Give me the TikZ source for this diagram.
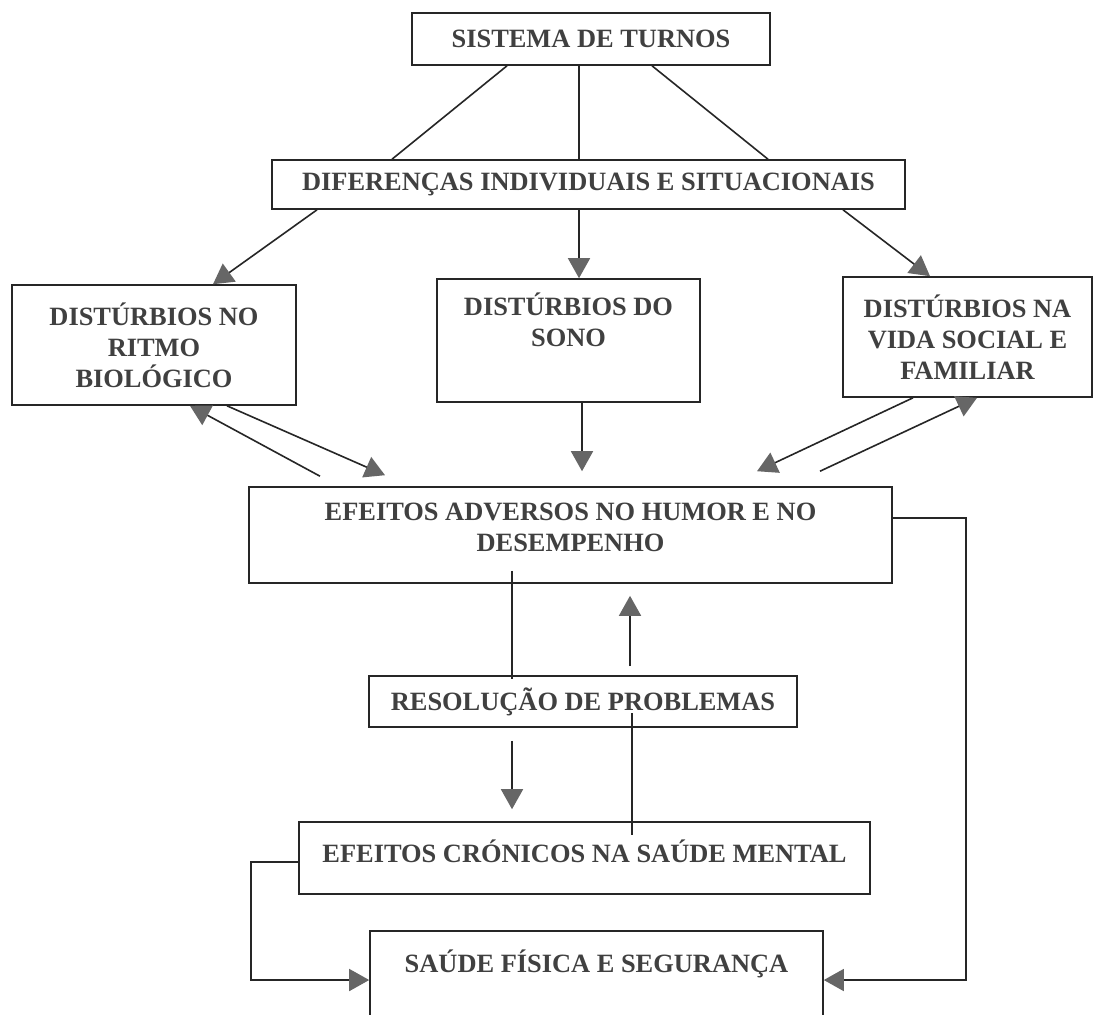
\documentclass[tikz,border=0pt]{standalone}
\usepackage{fontspec}
\setmainfont{Liberation Serif}
\usetikzlibrary{arrows.meta}

\newcommand{\boxfont}{\fontsize{13.2}{15.5}\selectfont\bfseries}
\newcommand{\padbelow}[1]{\rule[-#1]{0pt}{0pt}}

\begin{document}
\begin{tikzpicture}[
    x=0.5pt, y=-0.5pt,
    box/.style={rectangle, draw=black!85, line width=0.8pt, inner sep=0pt, align=center, text=black!75, font=\boxfont},
    link/.style={draw=black!85, line width=0.8pt},
    arrow/.style={link, -{Triangle[length=10pt, width=11pt, color=black!60]}}
]
\path[use as bounding box, fill=white] (0,0) rectangle (1096,1014);

% Top of the chain
\node[box, minimum width=179pt, minimum height=26pt] (turnos) at (591,39) {SISTEMA DE TURNOS};
\node[box, minimum width=316.5pt, minimum height=24.5pt] (difer) at (588.5,184.5) {DIFERENÇAS INDIVIDUAIS E SITUACIONAIS};

% Disturbances
\node[box, minimum width=142pt, minimum height=60pt] (ritmo) at (154,345) {DISTÚRBIOS NO\\RITMO\\BIOLÓGICO};
\node[box, minimum width=131.5pt, minimum height=61.5pt] (sono) at (568.5,340.5) {DISTÚRBIOS DO\\SONO\padbelow{20.5pt}};
\node[box, minimum width=124.5pt, minimum height=60pt] (social) at (967.5,337) {DISTÚRBIOS NA\\VIDA SOCIAL E\\FAMILIAR};

% Effects
\node[box, minimum width=321.5pt, minimum height=48pt] (efeitos) at (570.5,535) {EFEITOS ADVERSOS NO HUMOR E NO\\DESEMPENHO\padbelow{8pt}};
\node[box, minimum width=214pt, minimum height=25.5pt] (resol) at (583,701.5) {RESOLUÇÃO DE PROBLEMAS};
\node[box, minimum width=285.5pt, minimum height=36pt] (cronic) at (584.5,858) {EFEITOS CRÓNICOS NA SAÚDE MENTAL\padbelow{7pt}};
\node[box, minimum width=226.5pt, minimum height=43.5pt] (saude) at (596.5,974.5) {SAÚDE FÍSICA E SEGURANÇA\padbelow{13.5pt}};

% Shift system to differences
\draw[link] ([xshift=-42pt]turnos.south) -- ([xshift=-98.25pt]difer.north);
\draw[link] ([xshift=-6pt]turnos.south) -- ([xshift=-4.75pt]difer.north);
\draw[link] ([xshift=30.5pt]turnos.south) -- ([xshift=89.75pt]difer.north);

% Differences to disturbances
\draw[arrow] ([xshift=-135.75pt]difer.south) -- ([xshift=29.5pt]ritmo.north);
\draw[arrow] ([xshift=-4.75pt]difer.south) -- ([xshift=5.25pt]sono.north);
\draw[arrow] ([xshift=127.25pt]difer.south) -- ([xshift=-18.75pt]social.north);

% Disturbances and adverse effects
\draw[arrow] ([xshift=-125.25pt,yshift=5pt]efeitos.north) -- ([xshift=18pt]ritmo.south);
\draw[arrow] ([xshift=36.5pt]ritmo.south) -- ([xshift=-92.75pt,yshift=5.5pt]efeitos.north);
\draw[arrow] ([xshift=6.75pt]sono.south) -- ([xshift=5.75pt,yshift=7.5pt]efeitos.north);
\draw[arrow] ([xshift=-27.25pt]social.south) -- ([xshift=93.25pt,yshift=7.5pt]efeitos.north);
\draw[arrow] ([xshift=124.75pt,yshift=7.5pt]efeitos.north) -- ([xshift=4.75pt]social.south);

% Problem solving loop
\draw[link] ([xshift=-29.25pt,yshift=6.5pt]efeitos.south) -- ([xshift=-35.5pt,yshift=-2pt]resol.north);
\draw[arrow] ([xshift=23.5pt,yshift=4.5pt]resol.north) -- ([xshift=29.75pt,yshift=-6pt]efeitos.south);
\draw[arrow] ([xshift=-35.5pt,yshift=-6.5pt]resol.south) -- ([xshift=-36.25pt,yshift=6pt]cronic.north);
\draw[link] ([xshift=24.5pt,yshift=-5.75pt]resol.center) -- ([xshift=23.75pt,yshift=11.5pt]cronic.center);

% To physical health
\draw[arrow] ([yshift=8.5pt]efeitos.east) -- ++(73,0) |- ([yshift=-2.75pt]saude.east);
\draw[arrow] ([yshift=-2pt]cronic.west) -- ++(-47,0) |- ([yshift=-2.75pt]saude.west);

\end{tikzpicture}
\end{document}
